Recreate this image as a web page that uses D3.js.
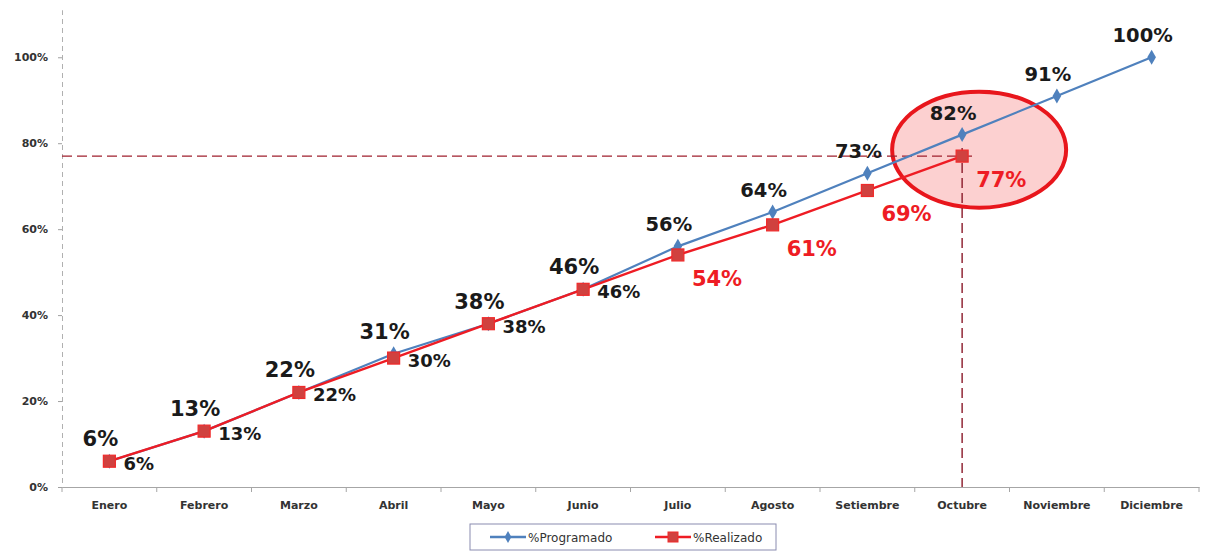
<!DOCTYPE html>
<html>
<head>
<meta charset="utf-8">
<script src="https://cdn.jsdelivr.net/npm/d3@7/dist/d3.min.js"></script>
<style>
  html, body { margin: 0; padding: 0; background: #fff; }
  svg { display: block; }
</style>
</head>
<body>
<svg id="chart" width="1217" height="554"></svg>
<script>
// Monthly cumulative progress: planned vs. achieved
const months = ["Enero", "Febrero", "Marzo", "Abril", "Mayo", "Junio", "Julio",
                "Agosto", "Setiembre", "Octubre", "Noviembre", "Diciembre"];
const programado = [6, 13, 22, 31, 38, 46, 56, 64, 73, 82, 91, 100];
const realizado = [6, 13, 22, 30, 38, 46, 54, 61, 69, 77];
const yTicks = [0, 20, 40, 60, 80, 100];
const seriesNames = ["%Programado", "%Realizado"];

const W = 1217, H = 554;
const margin = { left: 62, right: 18, top: 10, bottom: 67 };
const svg = d3.select("#chart");

const x = d3.scaleBand().domain(months)
  .range([margin.left, W - margin.right]).paddingInner(0).paddingOuter(0);
const y = d3.scaleLinear().domain([0, 111]).range([H - margin.bottom, margin.top]);
const cx = m => x(m) + x.bandwidth() / 2;

const BLUE = "#4f81bd", RED = "#ee1c24", SQUARE = "#d0413f", DARK = "#1a1a1a";
const FONT = "'DejaVu Sans', Verdana, sans-serif";

// Y axis: dashed vertical line, small ticks, percentage labels
const yAxis = svg.append("g").attr("transform", `translate(${margin.left},0)`)
  .call(d3.axisLeft(y).tickValues(yTicks).tickFormat(d => d + "%").tickSize(4).tickPadding(10));
yAxis.select(".domain").attr("stroke", "#b0b0b0").attr("stroke-dasharray", "5,4");
yAxis.selectAll(".tick line").attr("stroke", "#a0a0a0");
yAxis.selectAll(".tick text").attr("font-family", FONT).attr("font-weight", "bold")
  .attr("font-size", 11).attr("fill", "#333");

// X axis: solid baseline with ticks between the months
const xAxis = svg.append("g").attr("transform", `translate(0,${y(0)})`)
  .call(d3.axisBottom(x).tickSize(0).tickPadding(14));
xAxis.select(".domain").attr("stroke", "#a6a6a6");
xAxis.selectAll(".tick text").attr("font-family", FONT).attr("font-weight", "bold")
  .attr("font-size", 11).attr("fill", "#333");
svg.append("g").selectAll("line")
  .data(months.map(m => x(m)).concat([x(months[months.length - 1]) + x.bandwidth()]))
  .join("line")
  .attr("x1", d => d).attr("x2", d => d)
  .attr("y1", y(0)).attr("y2", y(0) + 5)
  .attr("stroke", "#a6a6a6");

// Highlight around the latest achieved value
const lastIdx = realizado.length - 1;
const lastMonth = months[lastIdx];
const lastX = cx(lastMonth), lastY = y(realizado[lastIdx]);

svg.append("ellipse")
  .attr("cx", lastX + 17).attr("cy", y(78.5))
  .attr("rx", 87).attr("ry", 58)
  .attr("fill", "rgba(245,110,110,0.32)")
  .attr("stroke", "#e8161c").attr("stroke-width", 4);

// Dashed guide lines to the latest achieved point
svg.append("line")
  .attr("x1", margin.left).attr("x2", lastX + 14)
  .attr("y1", lastY).attr("y2", lastY)
  .attr("stroke", "#a0202e").attr("stroke-width", 1.4).attr("stroke-dasharray", "10,5");
svg.append("line")
  .attr("x1", lastX).attr("x2", lastX)
  .attr("y1", lastY - 8).attr("y2", y(0))
  .attr("stroke", "#8a1a2a").attr("stroke-width", 1.4).attr("stroke-dasharray", "10,5");

// Planned series (blue, diamonds)
const progPts = programado.map((v, i) => ({ m: months[i], v }));
const realPts = realizado.map((v, i) => ({ m: months[i], v, p: programado[i] }));
const line = d3.line().x(d => cx(d.m)).y(d => y(d.v));

svg.append("path").datum(progPts)
  .attr("d", line).attr("fill", "none").attr("stroke", BLUE).attr("stroke-width", 2.2);
svg.append("g").selectAll("path").data(progPts).join("path")
  .attr("d", d3.symbol(d3.symbolDiamond, 65))
  .attr("transform", d => `translate(${cx(d.m)},${y(d.v)})`)
  .attr("fill", BLUE);

// Achieved series (red, squares)
svg.append("path").datum(realPts)
  .attr("d", line).attr("fill", "none").attr("stroke", RED).attr("stroke-width", 2.4);
svg.append("g").selectAll("rect").data(realPts).join("rect")
  .attr("x", d => cx(d.m) - 6).attr("y", d => y(d.v) - 6)
  .attr("width", 12).attr("height", 12)
  .attr("fill", SQUARE).attr("stroke", "#f02a2a").attr("stroke-width", 1.2);

// Planned value labels above each point
svg.append("g").selectAll("text").data(progPts).join("text")
  .attr("x", d => cx(d.m) - 9).attr("y", d => y(d.v) - 15)
  .attr("text-anchor", "middle")
  .attr("font-family", FONT).attr("font-weight", "bold")
  .attr("font-size", (d, i) => i < 6 ? 21 : 19.5)
  .attr("fill", DARK)
  .text(d => d.v + "%");

// Achieved value labels to the right; lagging months in red and lower
svg.append("g").selectAll("text").data(realPts).join("text")
  .attr("x", d => cx(d.m) + 14)
  .attr("y", d => (d.p - d.v >= 2) ? y(d.v) + 31 : y(d.v) + 9)
  .attr("text-anchor", "start")
  .attr("font-family", FONT).attr("font-weight", "bold")
  .attr("font-size", d => (d.p - d.v >= 2) ? 21 : 18)
  .attr("fill", d => (d.p - d.v >= 2) ? RED : DARK)
  .text(d => d.v + "%");

// Legend
const lg = svg.append("g").attr("transform", "translate(470,524)");
lg.append("rect").attr("width", 306).attr("height", 26)
  .attr("fill", "#fff").attr("stroke", "#8a8cb0").attr("stroke-width", 1);
const items = [
  { name: seriesNames[0], color: BLUE, x: 20, marker: "diamond" },
  { name: seriesNames[1], color: RED, x: 185, marker: "square" }
];
items.forEach(it => {
  const g = lg.append("g").attr("transform", `translate(${it.x},13)`);
  g.append("line").attr("x1", 0).attr("x2", 36).attr("stroke", it.color).attr("stroke-width", 2.4);
  if (it.marker === "diamond") {
    g.append("path").attr("d", d3.symbol(d3.symbolDiamond, 40)()).attr("transform", "translate(18,0)")
      .attr("fill", it.color);
  } else {
    g.append("rect").attr("x", 13).attr("y", -5).attr("width", 10).attr("height", 10)
      .attr("fill", SQUARE).attr("stroke", "#f02a2a");
  }
  g.append("text").attr("x", 38).attr("y", 4.5)
    .attr("font-family", FONT).attr("font-size", 12).attr("fill", "#333")
    .text(it.name);
});
</script>
</body>
</html>
